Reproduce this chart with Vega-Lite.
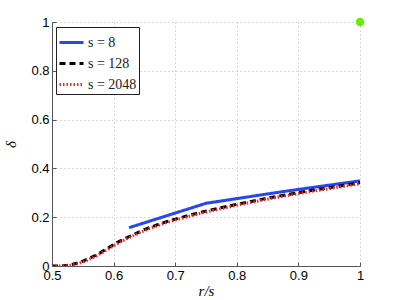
{
  "$schema": "https://vega.github.io/schema/vega-lite/v6.json",
  "width": 308,
  "height": 244,
  "autosize": {"type": "none"},
  "padding": {"left": 52, "top": 22, "right": 38, "bottom": 34},
  "background": "white",
  "config": {
    "view": {"stroke": null},
    "axis": {
      "labelFont": "Liberation Sans",
      "labelFontSize": 13,
      "labelColor": "black",
      "labelFlush": false,
      "domainColor": "#555555",
      "tickColor": "#555555",
      "tickSize": -4,
      "gridColor": "#b0b0b0",
      "gridDash": [1, 3],
      "gridOpacity": 1
    }
  },
  "layer": [
    {
      "data": {
        "values": [
          {"series": "s = 8", "x": 0.625, "y": 0.157},
          {"series": "s = 8", "x": 0.75, "y": 0.257},
          {"series": "s = 8", "x": 0.875, "y": 0.305},
          {"series": "s = 8", "x": 1.0, "y": 0.349},
          {"series": "s = 128", "x": 0.5, "y": 0.0},
          {"series": "s = 128", "x": 0.51, "y": 0.0},
          {"series": "s = 128", "x": 0.52, "y": 0.001},
          {"series": "s = 128", "x": 0.53, "y": 0.005},
          {"series": "s = 128", "x": 0.54, "y": 0.011},
          {"series": "s = 128", "x": 0.55, "y": 0.02},
          {"series": "s = 128", "x": 0.56, "y": 0.031},
          {"series": "s = 128", "x": 0.57, "y": 0.043},
          {"series": "s = 128", "x": 0.58, "y": 0.057},
          {"series": "s = 128", "x": 0.59, "y": 0.072},
          {"series": "s = 128", "x": 0.6, "y": 0.088},
          {"series": "s = 128", "x": 0.61, "y": 0.102},
          {"series": "s = 128", "x": 0.62, "y": 0.114},
          {"series": "s = 128", "x": 0.63, "y": 0.126},
          {"series": "s = 128", "x": 0.64, "y": 0.138},
          {"series": "s = 128", "x": 0.65, "y": 0.149},
          {"series": "s = 128", "x": 0.66, "y": 0.159},
          {"series": "s = 128", "x": 0.67, "y": 0.168},
          {"series": "s = 128", "x": 0.68, "y": 0.177},
          {"series": "s = 128", "x": 0.69, "y": 0.185},
          {"series": "s = 128", "x": 0.7, "y": 0.192},
          {"series": "s = 128", "x": 0.72, "y": 0.206},
          {"series": "s = 128", "x": 0.74, "y": 0.219},
          {"series": "s = 128", "x": 0.76, "y": 0.231},
          {"series": "s = 128", "x": 0.78, "y": 0.242},
          {"series": "s = 128", "x": 0.8, "y": 0.253},
          {"series": "s = 128", "x": 0.82, "y": 0.263},
          {"series": "s = 128", "x": 0.84, "y": 0.273},
          {"series": "s = 128", "x": 0.86, "y": 0.283},
          {"series": "s = 128", "x": 0.88, "y": 0.292},
          {"series": "s = 128", "x": 0.9, "y": 0.301},
          {"series": "s = 128", "x": 0.92, "y": 0.309},
          {"series": "s = 128", "x": 0.94, "y": 0.317},
          {"series": "s = 128", "x": 0.96, "y": 0.325},
          {"series": "s = 128", "x": 0.98, "y": 0.333},
          {"series": "s = 128", "x": 1.0, "y": 0.341},
          {"series": "s = 2048", "x": 0.5, "y": 0.0},
          {"series": "s = 2048", "x": 0.51, "y": 0.0},
          {"series": "s = 2048", "x": 0.52, "y": 0.0},
          {"series": "s = 2048", "x": 0.53, "y": 0.003},
          {"series": "s = 2048", "x": 0.54, "y": 0.008},
          {"series": "s = 2048", "x": 0.55, "y": 0.016},
          {"series": "s = 2048", "x": 0.56, "y": 0.027},
          {"series": "s = 2048", "x": 0.57, "y": 0.039},
          {"series": "s = 2048", "x": 0.58, "y": 0.053},
          {"series": "s = 2048", "x": 0.59, "y": 0.068},
          {"series": "s = 2048", "x": 0.6, "y": 0.083},
          {"series": "s = 2048", "x": 0.61, "y": 0.097},
          {"series": "s = 2048", "x": 0.62, "y": 0.11},
          {"series": "s = 2048", "x": 0.63, "y": 0.122},
          {"series": "s = 2048", "x": 0.64, "y": 0.134},
          {"series": "s = 2048", "x": 0.65, "y": 0.145},
          {"series": "s = 2048", "x": 0.66, "y": 0.155},
          {"series": "s = 2048", "x": 0.67, "y": 0.164},
          {"series": "s = 2048", "x": 0.68, "y": 0.173},
          {"series": "s = 2048", "x": 0.69, "y": 0.181},
          {"series": "s = 2048", "x": 0.7, "y": 0.188},
          {"series": "s = 2048", "x": 0.72, "y": 0.202},
          {"series": "s = 2048", "x": 0.74, "y": 0.215},
          {"series": "s = 2048", "x": 0.76, "y": 0.227},
          {"series": "s = 2048", "x": 0.78, "y": 0.238},
          {"series": "s = 2048", "x": 0.8, "y": 0.249},
          {"series": "s = 2048", "x": 0.82, "y": 0.259},
          {"series": "s = 2048", "x": 0.84, "y": 0.269},
          {"series": "s = 2048", "x": 0.86, "y": 0.279},
          {"series": "s = 2048", "x": 0.88, "y": 0.288},
          {"series": "s = 2048", "x": 0.9, "y": 0.297},
          {"series": "s = 2048", "x": 0.92, "y": 0.305},
          {"series": "s = 2048", "x": 0.94, "y": 0.313},
          {"series": "s = 2048", "x": 0.96, "y": 0.321},
          {"series": "s = 2048", "x": 0.98, "y": 0.329},
          {"series": "s = 2048", "x": 1.0, "y": 0.337}
        ]
      },
      "mark": {"type": "line", "clip": true},
      "encoding": {
        "x": {
          "field": "x",
          "type": "quantitative",
          "scale": {"domain": [0.5, 1], "nice": false, "zero": false},
          "axis": {
            "values": [0.5, 0.6, 0.7, 0.8, 0.9, 1],
            "format": "~g",
            "labelPadding": 7,
            "title": "r/s",
            "titleFont": "Liberation Serif",
            "titleFontStyle": "italic",
            "titleFontWeight": "normal",
            "titleFontSize": 15,
            "titlePadding": 1
          }
        },
        "y": {
          "field": "y",
          "type": "quantitative",
          "scale": {"domain": [0, 1], "nice": false},
          "axis": {
            "values": [0, 0.2, 0.4, 0.6, 0.8, 1],
            "format": "~g",
            "labelPadding": 7,
            "title": "δ",
            "titleFont": "Liberation Serif",
            "titleFontStyle": "italic",
            "titleFontWeight": "normal",
            "titleFontSize": 15,
            "titlePadding": 12
          }
        },
        "color": {
          "field": "series",
          "type": "nominal",
          "scale": {"domain": ["s = 8", "s = 128", "s = 2048"], "range": ["#2546f0", "#000000", "#ff2020"]},
          "legend": {
            "title": null,
            "orient": "none",
            "legendX": 4,
            "legendY": 5,
            "symbolType": "stroke",
            "symbolSize": 576,
            "labelFont": "Liberation Serif",
            "labelFontSize": 14,
            "labelColor": "#222222",
            "labelOffset": 3,
            "fillColor": "white",
            "strokeColor": "#222222",
            "padding": 2,
            "rowPadding": -14
          }
        },
        "strokeDash": {
          "field": "series",
          "type": "nominal",
          "scale": {"domain": ["s = 8", "s = 128", "s = 2048"], "range": [[1, 0], [6, 4], [1.5, 2]]}
        },
        "strokeWidth": {
          "field": "series",
          "type": "nominal",
          "scale": {"domain": ["s = 8", "s = 128", "s = 2048"], "range": [3, 3, 1.5]}
        }
      }
    },
    {
      "data": {"values": [{"x": 1, "y": 1}]},
      "mark": {"type": "point", "filled": true, "size": 70, "color": "#66ee00", "opacity": 1, "clip": false},
      "encoding": {
        "x": {"field": "x", "type": "quantitative"},
        "y": {"field": "y", "type": "quantitative"}
      }
    }
  ]
}
